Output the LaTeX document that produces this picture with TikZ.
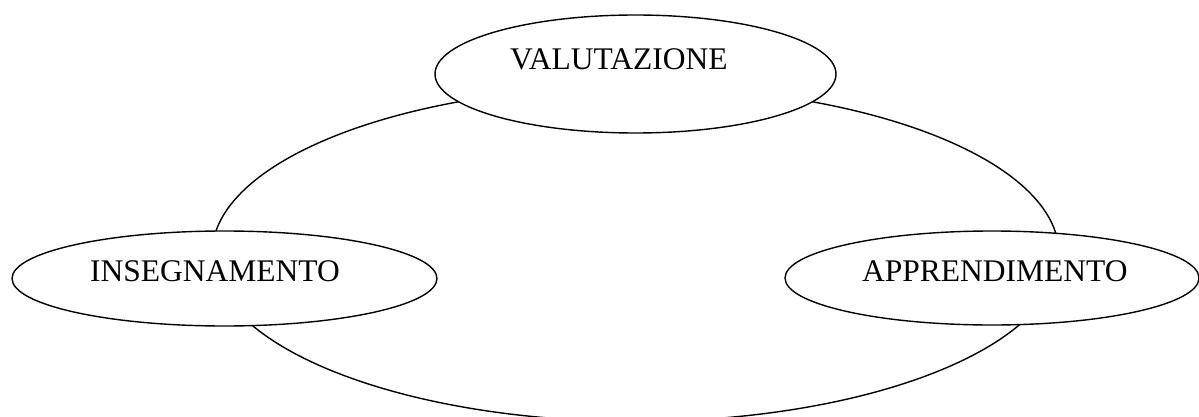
\documentclass[tikz,border=0pt]{standalone}
\usepackage{fontspec}
\setmainfont{Liberation Serif}
\usetikzlibrary{shapes.geometric}
\begin{document}
\begin{tikzpicture}[x=1pt,y=-1pt,
  oval/.style={ellipse,draw,line width=1.4pt,fill=white,inner sep=0pt,outer sep=0pt},
  lbl/.style={anchor=base west,inner sep=0pt,font=\fontsize{31.5}{36}\selectfont}]
\useasboundingbox[fill=white] (0,0) rectangle (1199,417);
\node[oval,minimum width=847pt,minimum height=335pt] (cycle) at (635.5,254) {};
\node[oval,minimum width=401pt,minimum height=118pt] (val) at (635.5,74) {};
\node[oval,minimum width=425pt,minimum height=95pt] (ins) at (224.5,278.5) {};
\node[oval,minimum width=414pt,minimum height=94pt] (app) at (992,278) {};
\node[lbl] (tval) at (510,70) {VALUTAZIONE};
\node[lbl] (tins) at (90,281.5) {INSEGNAMENTO};
\node[lbl] (tapp) at (862,281) {APPRENDIMENTO};
\end{tikzpicture}
\end{document}
